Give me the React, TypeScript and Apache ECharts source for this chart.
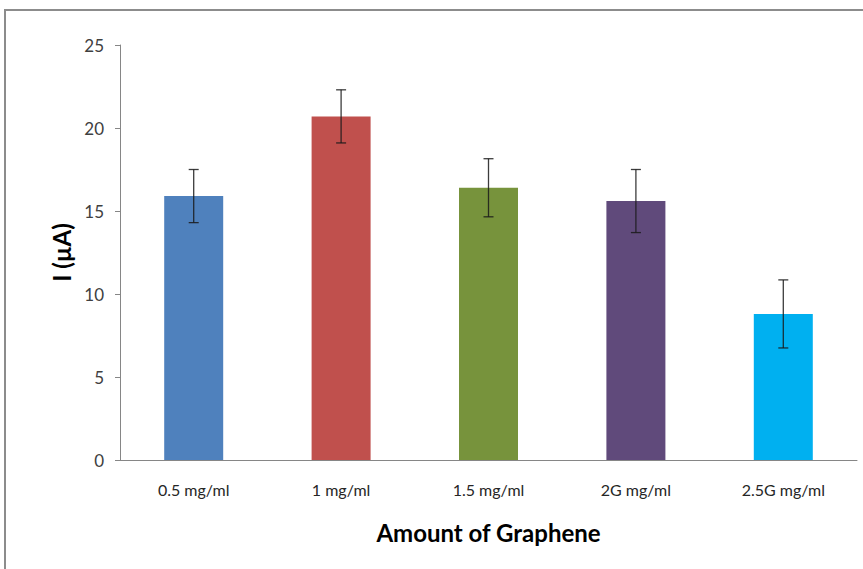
import React, { useEffect, useRef } from "react";
import * as echarts from "echarts";

const categories = ["0.5 mg/ml", "1 mg/ml", "1.5 mg/ml", "2G mg/ml", "2.5G mg/ml"];
const values = [15.9, 20.7, 16.4, 15.6, 8.8];
const errors = [1.6, 1.6, 1.75, 1.9, 2.05];
const barColors = ["#4F81BD", "#C0504D", "#77933C", "#604A7B", "#00B0F0"];
const yTicks = { min: 0, max: 25, interval: 5 };

export default function App() {
  const ref = useRef<HTMLDivElement>(null);
  useEffect(() => {
    if (!ref.current) return;
    const chart = echarts.init(ref.current, null, { renderer: "svg" });
    const font = "Lato, 'Open Sans', sans-serif";
    const errData = values.map((v, i) => [i, v - errors[i], v + errors[i]]);
    chart.setOption({
      animation: false,
      backgroundColor: "#ffffff",
      graphic: [
        {
          type: "rect",
          shape: { x: 5, y: 10, width: 900, height: 600 },
          style: { fill: "none", stroke: "#8c8c8c", lineWidth: 2 },
          silent: true,
        },
      ],
      grid: { left: 120, right: 6, top: 45, bottom: 109, containLabel: false },
      xAxis: {
        type: "category",
        data: categories,
        axisLine: { lineStyle: { color: "#868686", width: 1 } },
        axisTick: { show: false },
        axisLabel: { color: "#262626", fontSize: 16, fontFamily: font, margin: 21 },
        name: "Amount of Graphene",
        nameLocation: "middle",
        nameGap: 60,
        nameTextStyle: { color: "#000", fontSize: 24, fontWeight: "bold", fontFamily: font },
      },
      yAxis: {
        type: "value",
        min: yTicks.min,
        max: yTicks.max,
        interval: yTicks.interval,
        splitLine: { show: false },
        axisLine: { show: true, lineStyle: { color: "#868686", width: 1 } },
        axisTick: { show: true, length: 5, lineStyle: { color: "#868686" } },
        axisLabel: { color: "#404040", fontSize: 17, fontFamily: font, margin: 16 },
        name: "I (µA)",
        nameLocation: "middle",
        nameGap: 42,
        nameRotate: 90,
        nameTextStyle: { color: "#000", fontSize: 24, fontWeight: "bold", fontFamily: font },
      },
      series: [
        {
          type: "bar",
          data: values.map((v, i) => ({ value: v, itemStyle: { color: barColors[i] } })),
          barWidth: 59,
        },
        {
          type: "custom",
          data: errData,
          z: 10,
          renderItem: (params: any, api: any) => {
            const x = api.value(0);
            const lo = api.coord([x, api.value(1)]);
            const hi = api.coord([x, api.value(2)]);
            const cap = 5;
            const style = { stroke: "#1a1a1a", lineWidth: 1.3, opacity: 0.85 };
            return {
              type: "group",
              children: [
                { type: "line", shape: { x1: hi[0], y1: hi[1], x2: lo[0], y2: lo[1] }, style },
                { type: "line", shape: { x1: hi[0] - cap, y1: hi[1], x2: hi[0] + cap, y2: hi[1] }, style },
                { type: "line", shape: { x1: lo[0] - cap, y1: lo[1], x2: lo[0] + cap, y2: lo[1] }, style },
              ],
            };
          },
        },
      ],
    });
    return () => chart.dispose();
  }, []);
  return (
    <div
      ref={ref}
      style={{ position: "fixed", left: 0, top: 0, width: 863, height: 569 }}
    />
  );
}
